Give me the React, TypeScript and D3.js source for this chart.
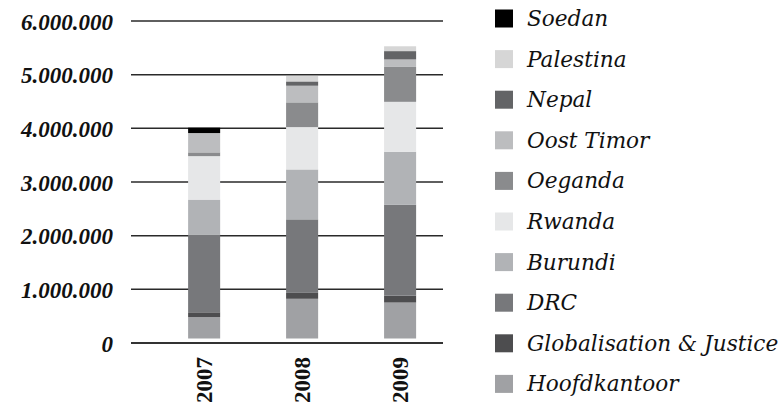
import * as d3 from "d3";
import React from "react";

const years = ["2007", "2008", "2009"];

// bottom to top, values per year
const hoofdkantoor = [400000, 740000, 670000];
const globalisation = [88000, 110000, 130000];
const drc = [1450000, 1370000, 1690000];
const burundi = [650000, 930000, 990000];
const rwanda = [810000, 790000, 930000];
const oeganda = [70000, 460000, 650000];
const oostTimor = [360000, 310000, 140000];
const nepal = [0, 80000, 155000];
const palestina = [0, 100000, 90000];
const soedan = [100000, 0, 0];

const seriesNames = ["Hoofdkantoor", "Globalisation & Justice", "DRC", "Burundi", "Rwanda", "Oeganda", "Oost Timor", "Nepal", "Palestina", "Soedan"];
const seriesValues = [hoofdkantoor, globalisation, drc, burundi, rwanda, oeganda, oostTimor, nepal, palestina, soedan];
const colors = ["#a0a1a4", "#4d4d4f", "#77787b", "#b1b3b6", "#e6e7e8", "#8a8b8d", "#bcbdbf", "#636466", "#d6d6d6", "#000000"];

const yTicks = [0, 1000000, 2000000, 3000000, 4000000, 5000000, 6000000];

export default function App() {
  const svgWidth = 782;
  const svgHeight = 410;

  const table = years.map((yr, i) => {
    const row: any = { year: yr };
    seriesNames.forEach((name, j) => { row[name] = seriesValues[j][i]; });
    return row;
  });
  const stacked = d3.stack().keys(seriesNames)(table);

  const x = d3.scaleBand()
    .domain(years)
    .range([131, 443])
    .paddingInner(0.673)
    .paddingOuter(0.4286)
    .align(0.68);

  const y = d3.scaleLinear()
    .domain([0, 6000000])
    .range([343, 21]);

  const fmt = (v: number) => v === 0 ? "0" : d3.format(",")(v).replace(/,/g, ".");

  // legend goes top-down, reverse of stack order
  const legend = seriesNames.map((n, i) => ({ name: n, color: colors[i] })).reverse();

  return (
    <svg width={svgWidth} height={svgHeight} style={{ position: "absolute", left: 0, top: 0, background: "#fff" }}>
      <g>
        {yTicks.map((t) => (
          <g key={t}>
            <line x1={131} x2={443} y1={y(t)} y2={y(t)} stroke={t === 0 ? "#333" : "#2a2a2a"} strokeWidth={t === 0 ? 2 : 1.5} />
            <text x={113} y={y(t) + 1} textAnchor="end" dominantBaseline="central"
              fontFamily="Liberation Serif" fontStyle="italic" fontWeight="bold" fontSize={23} fill="#111">
              {fmt(t)}
            </text>
          </g>
        ))}
      </g>
      <g transform="translate(0,-4.5)">
        {stacked.map((s, j) => (
          <g key={s.key} fill={colors[j]}>
            {s.map((d: any, i) => (
              d[1] - d[0] > 0 ?
                <rect key={i} x={x(d.data.year)} width={x.bandwidth()} y={y(d[1])} height={y(d[0]) - y(d[1])} /> : null
            ))}
          </g>
        ))}
      </g>
      {years.map((yr) => {
        const cx = (x(yr) as number) + x.bandwidth() / 2 + 8;
        return (
          <text key={yr} transform={"translate(" + cx + ",357) rotate(-90)"} textAnchor="end"
            fontFamily="Liberation Serif" fontWeight="bold" fontSize={23} fill="#111">
            {yr}
          </text>
        );
      })}
      <g>
        {legend.map((l, i) => {
          const cy = 18.5 + i * 40.6;
          return (
            <g key={l.name}>
              <rect x={495} y={cy - 9} width={18} height={18} fill={l.color} />
              <text x={527} y={cy} dominantBaseline="central" fontFamily="DejaVu Serif" fontStyle="italic" fontSize={21.6} fill="#111">
                {l.name}
              </text>
            </g>
          );
        })}
      </g>
    </svg>
  );
}
